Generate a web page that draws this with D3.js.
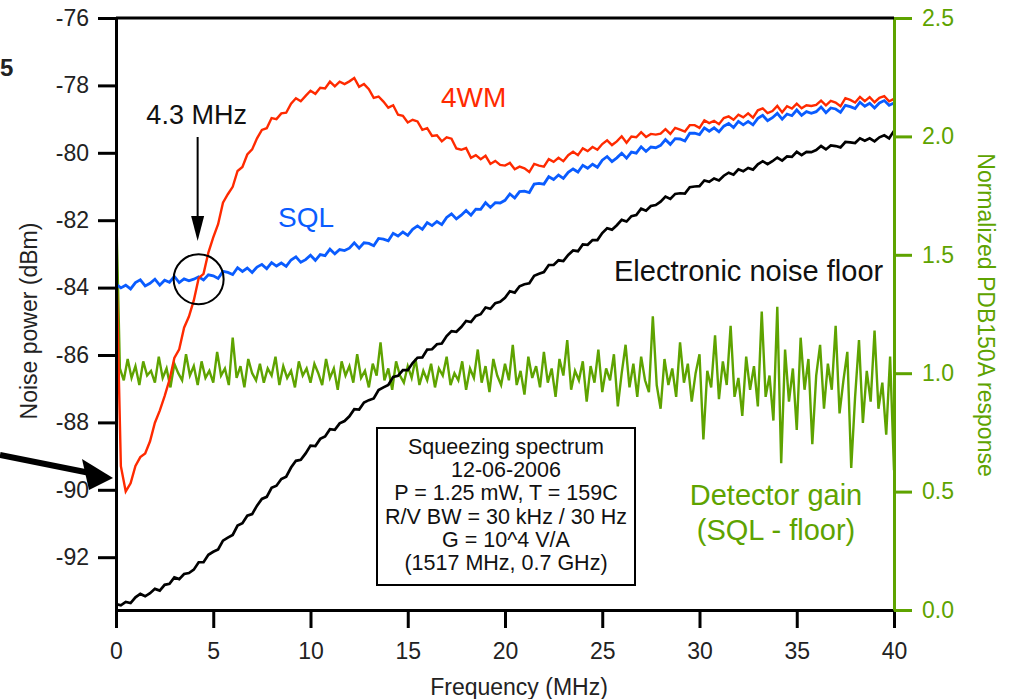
<!doctype html>
<html>
  <head>
    <meta charset="utf-8">
    <script src="https://d3js.org/d3.v7.min.js"></script>
    <style>
      body { margin: 0; background: #fff; }
      svg text { font-family: "Liberation Sans", Arial, Helvetica, sans-serif; }
    </style>
  </head>
  <body>
    <svg id="chart" width="1015" height="699"></svg>
    <script>
      /* tick values */
      const xTicks = [0, 5, 10, 15, 20, 25, 30, 35, 40];
      const yTicks = [-76, -78, -80, -82, -84, -86, -88, -90, -92];
      const gainTicks = [0, 0.5, 1.0, 1.5, 2.0, 2.5];

      /* sample frequencies (MHz) */
      const freqLines = d3.range(0, 161).map(i => i * 0.25);
      const freqGain = d3.range(0, 201).map(i => i * 0.2);

      /* 4WM noise power (dBm), one row per 2 MHz */
      const fwm = [
        -82.90, -89.30, -90.05, -89.81, -89.29, -89.03, -88.92, -88.56,
        -88.01, -87.65, -87.22, -86.74, -86.09, -85.83, -85.19, -84.86,
        -84.38, -83.72, -83.59, -82.96, -82.51, -82.12, -81.48, -81.23,
        -81.01, -80.54, -80.42, -80.05, -79.90, -79.57, -79.32, -79.27,
        -78.97, -79.00, -78.83, -78.81, -78.54, -78.38, -78.47, -78.31,
        -78.16, -78.25, -78.07, -78.09, -77.89, -78.03, -77.89, -77.96,
        -77.88, -77.78, -78.04, -77.96, -78.11, -78.37, -78.33, -78.48,
        -78.66, -78.59, -78.87, -78.90, -79.10, -79.02, -79.07, -79.32,
        -79.27, -79.50, -79.48, -79.66, -79.54, -79.58, -79.87, -79.91,
        -79.86, -80.15, -80.07, -80.19, -80.09, -80.33, -80.24, -80.36,
        -80.38, -80.30, -80.49, -80.41, -80.46, -80.57, -80.33, -80.38,
        -80.41, -80.19, -80.27, -80.15, -80.25, -80.07, -79.97, -80.07,
        -79.87, -79.95, -79.83, -79.91, -79.74, -79.63, -79.77, -79.66,
        -79.51, -79.70, -79.52, -79.54, -79.39, -79.53, -79.44, -79.46,
        -79.43, -79.30, -79.44, -79.26, -79.31, -79.37, -79.18, -79.18,
        -79.26, -79.04, -79.12, -79.05, -79.15, -78.97, -78.92, -79.02,
        -78.87, -78.95, -78.83, -78.96, -78.74, -78.68, -78.82, -78.76,
        -78.61, -78.80, -78.62, -78.69, -78.54, -78.68, -78.59, -78.61,
        -78.58, -78.45, -78.59, -78.46, -78.51, -78.62, -78.38, -78.43,
        -78.51, -78.34, -78.47, -78.35, -78.50, -78.37, -78.32, -78.47,
        -78.40
      ];

      /* SQL noise power (dBm) */
      const sql = [
        -83.90, -84.01, -83.93, -84.04, -83.85, -83.77, -83.95, -83.87,
        -83.75, -83.93, -83.78, -83.84, -83.67, -83.85, -83.74, -83.80,
        -83.75, -83.68, -83.77, -83.62, -83.65, -83.73, -83.52, -83.55,
        -83.61, -83.41, -83.52, -83.42, -83.55, -83.39, -83.31, -83.44,
        -83.26, -83.36, -83.27, -83.37, -83.18, -83.09, -83.25, -83.17,
        -83.04, -83.19, -83.02, -83.05, -82.86, -83.00, -82.87, -82.90,
        -82.83, -82.67, -82.83, -82.67, -82.69, -82.76, -82.54, -82.56,
        -82.61, -82.39, -82.47, -82.35, -82.45, -82.27, -82.17, -82.27,
        -82.07, -82.16, -82.04, -82.13, -81.92, -81.81, -81.96, -81.85,
        -81.71, -81.85, -81.67, -81.68, -81.48, -81.62, -81.48, -81.49,
        -81.41, -81.22, -81.34, -81.15, -81.14, -81.18, -80.93, -80.91,
        -80.93, -80.71, -80.79, -80.66, -80.76, -80.58, -80.48, -80.57,
        -80.37, -80.46, -80.34, -80.43, -80.22, -80.11, -80.26, -80.15,
        -80.01, -80.16, -79.98, -80.01, -79.82, -79.96, -79.83, -79.85,
        -79.78, -79.61, -79.75, -79.58, -79.59, -79.65, -79.42, -79.42,
        -79.46, -79.26, -79.36, -79.26, -79.38, -79.21, -79.13, -79.25,
        -79.07, -79.17, -79.07, -79.17, -78.98, -78.89, -79.05, -78.96,
        -78.83, -79.00, -78.85, -78.90, -78.73, -78.89, -78.78, -78.83,
        -78.78, -78.64, -78.81, -78.67, -78.70, -78.80, -78.59, -78.63,
        -78.69, -78.50, -78.62, -78.53, -78.67, -78.52, -78.45, -78.59,
        -78.52
      ];

      /* electronic noise floor (dBm) */
      const floorNoise = [
        -93.39, -93.43, -93.33, -93.36, -93.19, -93.09, -93.16, -93.07,
        -92.94, -92.99, -92.82, -92.79, -92.60, -92.65, -92.50, -92.47,
        -92.37, -92.15, -92.15, -91.93, -91.84, -91.77, -91.51, -91.42,
        -91.34, -91.06, -90.99, -90.77, -90.72, -90.47, -90.27, -90.21,
        -89.94, -89.88, -89.68, -89.61, -89.34, -89.14, -89.11, -88.92,
        -88.69, -88.70, -88.49, -88.42, -88.20, -88.22, -88.03, -87.96,
        -87.82, -87.61, -87.62, -87.41, -87.34, -87.29, -87.04, -86.96,
        -86.89, -86.65, -86.62, -86.45, -86.45, -86.24, -86.08, -86.07,
        -85.84, -85.83, -85.68, -85.66, -85.44, -85.29, -85.31, -85.17,
        -84.99, -85.02, -84.84, -84.79, -84.59, -84.63, -84.46, -84.42,
        -84.30, -84.11, -84.15, -83.96, -83.90, -83.87, -83.65, -83.59,
        -83.54, -83.33, -83.33, -83.19, -83.21, -83.03, -82.90, -82.92,
        -82.72, -82.73, -82.59, -82.59, -82.38, -82.24, -82.28, -82.15,
        -81.99, -82.04, -81.88, -81.85, -81.66, -81.72, -81.58, -81.55,
        -81.45, -81.30, -81.37, -81.22, -81.20, -81.21, -81.02, -81.00,
        -80.99, -80.82, -80.86, -80.76, -80.82, -80.68, -80.59, -80.65,
        -80.49, -80.55, -80.45, -80.50, -80.34, -80.25, -80.34, -80.25,
        -80.14, -80.23, -80.11, -80.12, -79.97, -80.07, -79.97, -79.98,
        -79.92, -79.80, -79.90, -79.78, -79.80, -79.84, -79.68, -79.69,
        -79.71, -79.57, -79.64, -79.57, -79.66, -79.54, -79.48, -79.57,
        -79.35
      ];

      /* detector gain (SQL - floor), normalized, one row per 2 MHz */
      const gain = [
        1.73, 1.02, 0.97, 1.06, 0.98, 1.03, 0.95, 1.05, 0.99, 1.01,
        0.96, 1.07, 0.98, 1.02, 0.94, 1.04, 1.00, 0.97, 1.08, 0.99,
        1.03, 0.95, 1.05, 0.98, 1.01, 0.96, 1.09, 0.99, 1.02, 0.95,
        1.15, 0.98, 1.03, 0.94, 1.06, 1.00, 0.97, 1.04, 0.96, 1.02,
        0.99, 1.07, 0.95, 1.03, 0.98, 1.01, 0.94, 1.05, 0.99, 1.02,
        0.96, 1.04, 1.00, 0.95, 1.06, 0.98, 1.02, 0.93, 1.05, 0.99,
        1.03, 0.96, 1.08, 0.98, 1.01, 0.94, 1.04, 0.99, 1.13, 0.97,
        1.02, 0.93, 1.05, 0.99, 0.96, 1.03, 0.98, 1.06, 0.95, 1.01,
        0.97, 1.04, 0.94, 1.02, 0.99, 1.07, 0.95, 1.00, 0.97, 1.05,
        0.93, 1.02, 0.98, 1.10, 0.96, 1.03, 0.92, 1.06, 0.99, 0.95,
        1.04, 0.97, 1.12, 0.95, 1.01, 0.91, 1.07, 0.98, 1.03, 0.94,
        1.09, 0.96, 1.02, 0.90, 1.06, 0.99, 1.14, 0.93, 1.01, 0.97,
        1.05, 0.88, 1.03, 0.96, 1.10, 0.92, 1.02, 0.97, 1.08, 0.86,
        1.00, 1.12, 0.94, 1.04, 0.90, 1.07, 0.97, 0.92, 1.24, 0.95,
        0.85, 1.06, 0.95, 1.02, 0.90, 1.13, 0.96, 1.04, 0.88, 1.00,
        1.08, 0.72, 1.01, 0.94, 1.16, 0.89, 1.05, 0.95, 1.20, 0.90,
        0.98, 0.82, 1.07, 0.93, 1.03, 0.86, 1.26, 0.90, 0.99, 0.80,
        1.28, 0.62, 1.10, 0.88, 1.02, 0.76, 1.15, 0.93, 1.06, 0.70,
        0.99, 1.12, 0.85, 1.04, 0.93, 1.20, 0.83, 0.97, 1.09, 0.60,
        0.90, 1.14, 0.79, 1.01, 0.88, 1.18, 0.85, 0.96, 0.74, 1.07,
        0.59
      ];

      const infoLines = [
        "Squeezing spectrum",
        "12-06-2006",
        "P = 1.25 mW, T = 159C",
        "R/V BW = 30 kHz / 30 Hz",
        "G = 10^4 V/A",
        "(1517 MHz, 0.7 GHz)"
      ];

      const RED = "#ff2a00", BLUE = "#0a5cff", GREEN = "#5ea300";

      const svg = d3.select("#chart");
      const plotL = 116, plotR = 894, plotT = 18, plotB = 610;

      const x = d3.scaleLinear().domain([0, 40]).range([plotL, plotR]);
      const y = d3.scaleLinear().domain([-76, -93.567]).range([plotT, plotB]);
      const yGain = d3.scaleLinear().domain([0, 2.5]).range([plotB, plotT]);

      svg.append("clipPath").attr("id", "plot")
        .append("rect").attr("x", plotL).attr("y", plotT)
        .attr("width", plotR - plotL).attr("height", plotB - plotT);

      const lineDb = d3.line().x(d => x(d[0])).y(d => y(d[1]));
      const lineGain = d3.line().x(d => x(d[0])).y(d => yGain(d[1]));

      const traces = svg.append("g").attr("clip-path", "url(#plot)");

      traces.append("path")
        .datum(freqGain.map((f, i) => [f, gain[i]]))
        .attr("d", lineGain)
        .attr("fill", "none").attr("stroke", GREEN).attr("stroke-width", 2.4);

      traces.append("path")
        .datum(freqLines.map((f, i) => [f, floorNoise[i]]))
        .attr("d", lineDb)
        .attr("fill", "none").attr("stroke", "#000").attr("stroke-width", 2.7);

      traces.append("path")
        .datum(freqLines.map((f, i) => [f, sql[i]]))
        .attr("d", lineDb)
        .attr("fill", "none").attr("stroke", BLUE).attr("stroke-width", 2.8);

      traces.append("path")
        .datum(freqLines.map((f, i) => [f, fwm[i]]))
        .attr("d", lineDb)
        .attr("fill", "none").attr("stroke", RED).attr("stroke-width", 2.4);

      /* axes */
      const plain = d => String(d);
      const gLeft = svg.append("g").attr("transform", `translate(${plotL},0)`)
        .call(d3.axisLeft(y).tickValues(yTicks).tickSize(18).tickSizeOuter(0)
          .tickPadding(9).tickFormat(plain));
      const gBottom = svg.append("g").attr("transform", `translate(0,${plotB})`)
        .call(d3.axisBottom(x).tickValues(xTicks).tickSize(18).tickSizeOuter(0)
          .tickPadding(15).tickFormat(plain));
      const gRight = svg.append("g").attr("transform", `translate(${plotR},0)`)
        .call(d3.axisRight(yGain).tickValues(gainTicks).tickSize(18).tickSizeOuter(0)
          .tickPadding(10).tickFormat(d3.format(".1f")));

      [gLeft, gBottom, gRight].forEach(g => {
        g.selectAll("path, line").attr("stroke-width", 3);
        g.selectAll("text").attr("font-size", 23)
          .attr("font-family", "'Liberation Sans', Arial, sans-serif").attr("fill", "#222");
      });
      gRight.attr("color", GREEN);
      gRight.selectAll("text").attr("fill", GREEN);

      svg.append("line")
        .attr("x1", plotL).attr("x2", plotR).attr("y1", plotT).attr("y2", plotT)
        .attr("stroke", "#000").attr("stroke-width", 3);

      /* axis titles */
      svg.append("text")
        .attr("transform", `translate(37,321) rotate(-90)`)
        .attr("text-anchor", "middle").attr("font-size", 23).attr("fill", "#222")
        .text("Noise power (dBm)");
      svg.append("text")
        .attr("x", 519).attr("y", 695)
        .attr("text-anchor", "middle").attr("font-size", 23).attr("fill", "#222")
        .text("Frequency (MHz)");
      svg.append("text")
        .attr("transform", `translate(978,315) rotate(90)`)
        .attr("text-anchor", "middle").attr("font-size", 23).attr("fill", GREEN)
        .text("Normalized PDB150A response");

      /* panel label at the far left edge */
      svg.append("text")
        .attr("x", 0).attr("y", 76)
        .attr("font-size", 24).attr("font-weight", "bold").attr("fill", "#222")
        .text("5");

      /* curve labels */
      svg.append("text").attr("x", 441).attr("y", 107)
        .attr("font-size", 28).attr("fill", RED).text("4WM");
      svg.append("text").attr("x", 278).attr("y", 227)
        .attr("font-size", 28).attr("fill", BLUE).text("SQL");
      svg.append("text").attr("x", 614).attr("y", 281)
        .attr("font-size", 29).attr("fill", "#111").text("Electronic noise floor");
      svg.append("text").attr("x", 776).attr("y", 505).attr("text-anchor", "middle")
        .attr("font-size", 29).attr("fill", GREEN).text("Detector gain");
      svg.append("text").attr("x", 776).attr("y", 540).attr("text-anchor", "middle")
        .attr("font-size", 29).attr("fill", GREEN).text("(SQL - floor)");

      /* 4.3 MHz crossing annotation */
      const xCross = x(4.3), yCross = y(-83.75);
      svg.append("text").attr("x", xCross - 3).attr("y", 124).attr("text-anchor", "middle")
        .attr("font-size", 27).attr("fill", "#111").text("4.3 MHz");
      svg.append("line")
        .attr("x1", xCross - 2).attr("x2", xCross - 2).attr("y1", 137).attr("y2", 220)
        .attr("stroke", "#000").attr("stroke-width", 2);
      svg.append("path")
        .attr("d", d3.line()([[xCross - 8.5, 216], [xCross + 4.5, 216], [xCross - 2, 241]]) + "Z")
        .attr("fill", "#000");
      svg.append("circle")
        .attr("cx", xCross - 1).attr("cy", yCross).attr("r", 25)
        .attr("fill", "none").attr("stroke", "#000").attr("stroke-width", 2);

      /* arrow to the 4WM minimum */
      svg.append("line")
        .attr("x1", 0).attr("y1", 455).attr("x2", 90).attr("y2", 473)
        .attr("stroke", "#000").attr("stroke-width", 6);
      svg.append("path")
        .attr("d", d3.line()([[113, 478], [82, 459], [89, 490]]) + "Z")
        .attr("fill", "#000");

      /* info box */
      const box = svg.append("g");
      box.append("rect")
        .attr("x", 377).attr("y", 428).attr("width", 258).attr("height", 157)
        .attr("fill", "#fff").attr("stroke", "#000").attr("stroke-width", 2);
      box.selectAll("text").data(infoLines).join("text")
        .attr("x", 506).attr("y", (d, i) => 454 + i * 23.2)
        .attr("text-anchor", "middle").attr("font-size", 21.5).attr("fill", "#111")
        .text(d => d);
    </script>
  </body>
</html>
